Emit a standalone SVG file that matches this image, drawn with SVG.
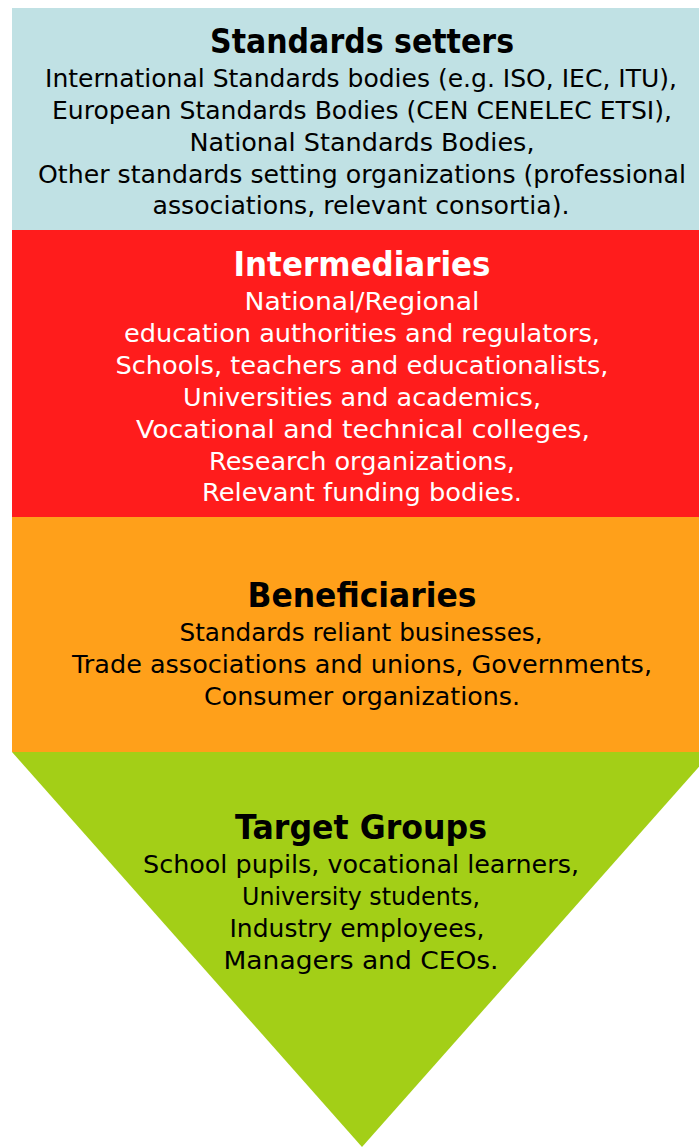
<svg xmlns="http://www.w3.org/2000/svg" width="699" height="1147" viewBox="0 0 699 1147">
<style>
text{font-family:"DejaVu Sans","Liberation Sans",sans-serif;text-anchor:middle}
.t{font-size:33px;font-weight:bold}
.b{font-size:24.5px}
.k{fill:#000}
.w{fill:#fff}
</style>
<rect width="699" height="1147" fill="#fff"/>
<g id="standards-setters">
<rect x="12" y="8" width="687" height="222" fill="#C0E1E4"/>
<text class="t k" x="362" y="53" textLength="304" lengthAdjust="spacingAndGlyphs">Standards setters</text>
<text class="b k" x="361" y="87" textLength="632" lengthAdjust="spacingAndGlyphs">International Standards bodies (e.g. ISO, IEC, ITU),</text>
<text class="b k" x="362" y="119" textLength="620" lengthAdjust="spacingAndGlyphs">European Standards Bodies (CEN CENELEC ETSI),</text>
<text class="b k" x="362" y="151" textLength="345" lengthAdjust="spacingAndGlyphs">National Standards Bodies,</text>
<text class="b k" x="362" y="183" textLength="648" lengthAdjust="spacingAndGlyphs">Other standards setting organizations (professional</text>
<text class="b k" x="361" y="214" textLength="417" lengthAdjust="spacingAndGlyphs">associations, relevant consortia).</text>
</g>
<g id="intermediaries">
<rect x="12" y="230" width="687" height="287" fill="#FF1C1C"/>
<text class="t w" x="362" y="276" textLength="257" lengthAdjust="spacingAndGlyphs">Intermediaries</text>
<text class="b w" x="362" y="310" textLength="235" lengthAdjust="spacingAndGlyphs">National/Regional</text>
<text class="b w" x="362" y="342" textLength="476" lengthAdjust="spacingAndGlyphs">education authorities and regulators,</text>
<text class="b w" x="362" y="374" textLength="493" lengthAdjust="spacingAndGlyphs">Schools, teachers and educationalists,</text>
<text class="b w" x="362" y="406" textLength="358" lengthAdjust="spacingAndGlyphs">Universities and academics,</text>
<text class="b w" x="363" y="438" textLength="454" lengthAdjust="spacingAndGlyphs">Vocational and technical colleges,</text>
<text class="b w" x="362" y="470" textLength="306" lengthAdjust="spacingAndGlyphs">Research organizations,</text>
<text class="b w" x="362" y="501" textLength="320" lengthAdjust="spacingAndGlyphs">Relevant funding bodies.</text>
</g>
<g id="beneficiaries">
<rect x="12" y="517" width="687" height="235" fill="#FFA01A"/>
<text class="t k" x="362" y="607" textLength="229" lengthAdjust="spacingAndGlyphs">Beneficiaries</text>
<text class="b k" x="361" y="641" textLength="363" lengthAdjust="spacingAndGlyphs">Standards reliant businesses,</text>
<text class="b k" x="362" y="673" textLength="580" lengthAdjust="spacingAndGlyphs">Trade associations and unions, Governments,</text>
<text class="b k" x="362" y="705" textLength="316" lengthAdjust="spacingAndGlyphs">Consumer organizations.</text>
</g>
<g id="target-groups">
<polygon points="12,752 712,752 362,1147" fill="#A3CF17"/>
<text class="t k" x="361" y="839" textLength="252" lengthAdjust="spacingAndGlyphs">Target Groups</text>
<text class="b k" x="361" y="873" textLength="436" lengthAdjust="spacingAndGlyphs">School pupils, vocational learners,</text>
<text class="b k" x="361" y="905" textLength="238" lengthAdjust="spacingAndGlyphs">University students,</text>
<text class="b k" x="357" y="937" textLength="255" lengthAdjust="spacingAndGlyphs">Industry employees,</text>
<text class="b k" x="361" y="969" textLength="275" lengthAdjust="spacingAndGlyphs">Managers and CEOs.</text>
</g>
<g id="connectors"></g>
</svg>
